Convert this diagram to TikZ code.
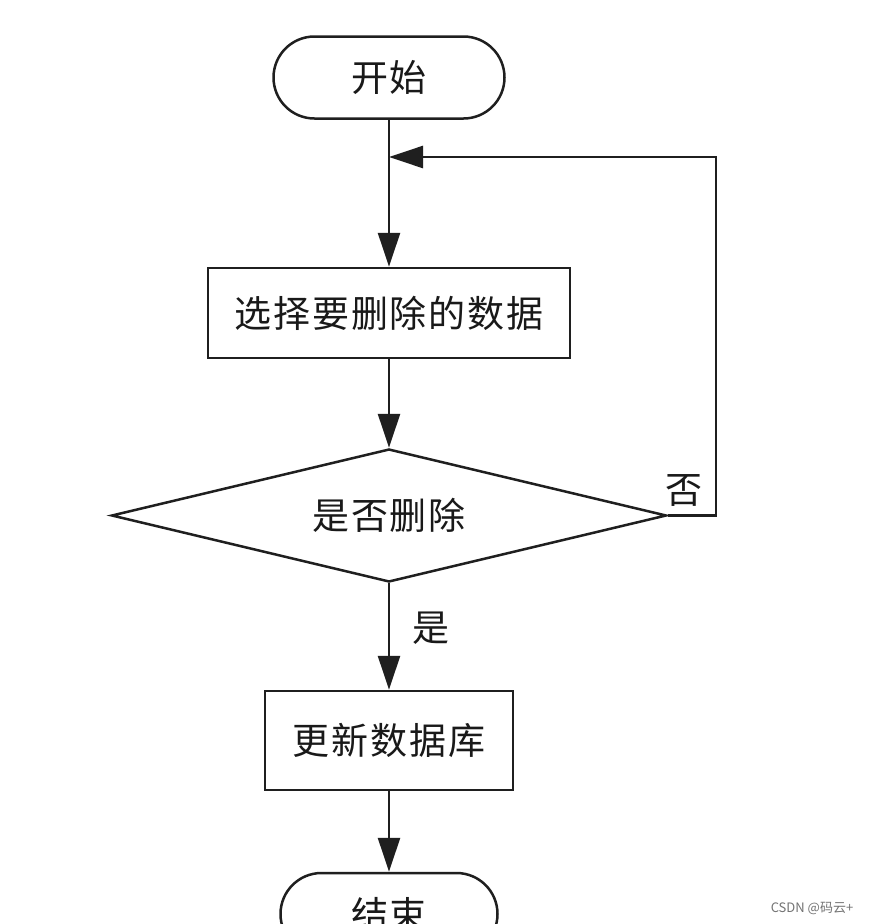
\documentclass[tikz,border=0pt]{standalone}
\usepackage{fontspec}
\setmainfont{Noto Sans CJK SC}
\newfontfamily\cjkfont[LetterSpace=5]{Noto Sans CJK SC}
\newfontfamily\wmfont{Noto Sans CJK SC}
\usetikzlibrary{arrows.meta,shapes.geometric}
\begin{document}
\begin{tikzpicture}[x=1pt,y=-1pt,
  every node/.style={font=\cjkfont\fontsize{37}{40}\selectfont, text=black!90},
  terminal/.style={draw=black!88, line width=2.5pt, rectangle, rounded corners=41pt, inner sep=0pt},
  procbox/.style={draw=black!88, line width=2.5pt, rectangle, inner sep=0pt},
  decision/.style={draw=black!88, line width=2.5pt, diamond, aspect=4.17, inner sep=0pt, minimum width=555pt, minimum height=133pt},
  flow/.style={draw=black!88, line width=2.5pt, -{Triangle[length=34pt,width=22pt]}},
  lbl/.style={inner sep=0pt}
]
\useasboundingbox (0,0) rectangle (868,924);
\clip (0,0) rectangle (868,924);
\fill[white] (0,0) rectangle (868,924);

\node[terminal, minimum width=231pt, minimum height=82pt] (start) at (389,77.5) {开始};
\node[procbox, minimum width=362pt, minimum height=90pt] (select) at (389,313) {选择要删除的数据};
\node[decision] (dec) at (389,515.5) {是否删除};
\node[procbox, minimum width=248pt, minimum height=99pt] (update) at (389,740.5) {更新数据库};
\node[terminal, minimum width=217pt, minimum height=82pt] (end) at (389,914) {结束};

\coordinate (loopin) at (389,157);
\coordinate (loopr1) at (716,515.5);
\coordinate (loopr2) at (716,157);

\draw[flow] (start.south) -- (select.north);
\draw[flow] (select.south) -- (dec.north);
\draw[flow] (dec.south) -- (update.north);
\draw[flow] (update.south) -- (end.north);
\draw[flow, line join=miter] (dec.east) -- (loopr1) -- (loopr2) -- (loopin);

\node[lbl] (no) at (684,490) {否};
\node[lbl] (yes) at (431,628) {是};

\node[lbl, font=\wmfont\fontsize{13}{14}\selectfont, text=black!55] (wm) at (812,908) {CSDN @码云+};
\end{tikzpicture}
\end{document}
